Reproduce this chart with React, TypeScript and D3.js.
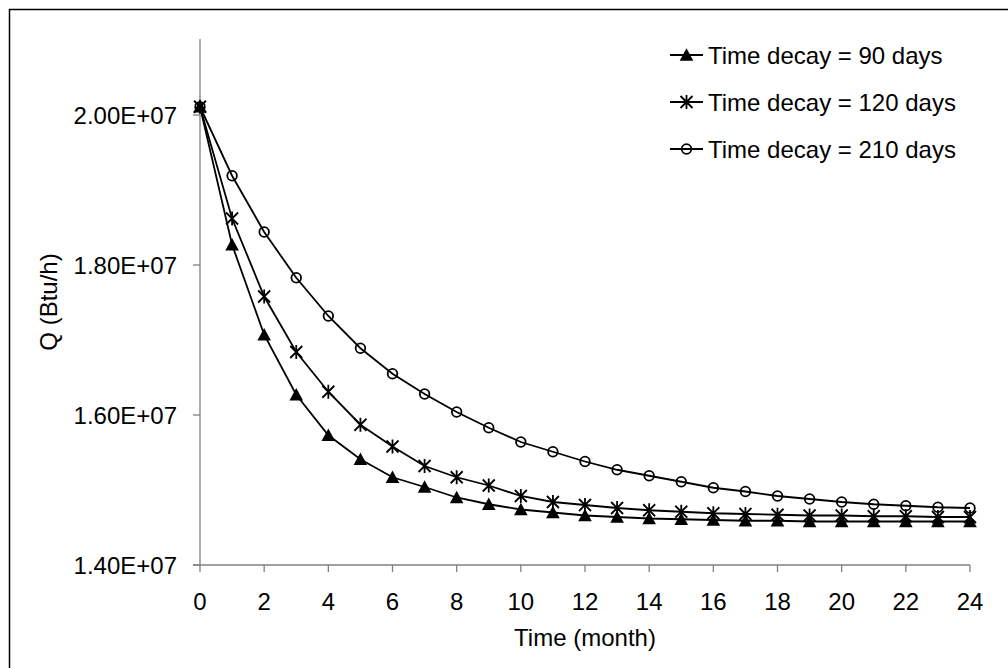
import React from "react";
import * as d3 from "d3";

const months = d3.range(0, 25);
const decay90 = [2.011e7, 1.827e7, 1.707e7, 1.627e7, 1.573e7, 1.541e7, 1.517e7, 1.504e7, 1.490e7, 1.481e7, 1.474e7, 1.470e7, 1.466e7, 1.464e7, 1.462e7, 1.461e7, 1.460e7, 1.459e7, 1.459e7, 1.458e7, 1.458e7, 1.458e7, 1.458e7, 1.458e7, 1.458e7];
const decay120 = [2.011e7, 1.862e7, 1.758e7, 1.684e7, 1.631e7, 1.587e7, 1.558e7, 1.532e7, 1.517e7, 1.506e7, 1.492e7, 1.484e7, 1.480e7, 1.476e7, 1.473e7, 1.471e7, 1.469e7, 1.468e7, 1.467e7, 1.466e7, 1.466e7, 1.465e7, 1.465e7, 1.464e7, 1.464e7];
const decay210 = [2.011e7, 1.919e7, 1.844e7, 1.783e7, 1.732e7, 1.689e7, 1.655e7, 1.628e7, 1.604e7, 1.583e7, 1.564e7, 1.551e7, 1.538e7, 1.527e7, 1.519e7, 1.511e7, 1.503e7, 1.498e7, 1.492e7, 1.488e7, 1.484e7, 1.481e7, 1.479e7, 1.477e7, 1.476e7];
const seriesNames = ["Time decay = 90 days", "Time decay = 120 days", "Time decay = 210 days"];
const seriesMarkers = ["triangle", "star", "circle"];
const xTicks = d3.range(0, 25, 2);
const yTicks = [1.4e7, 1.6e7, 1.8e7, 2.0e7];

const FONT = "'Liberation Sans', Arial, sans-serif";

function Marker({ type, x, y }: { type: string; x: number; y: number }) {
  if (type === "triangle") {
    const s = 6.8;
    return <path d={`M${x},${y - s}L${x + s},${y + s * 0.85}L${x - s},${y + s * 0.85}Z`} fill="#000" />;
  }
  if (type === "star") {
    const s = 6;
    return (
      <path
        d={`M${x - s},${y - s}L${x + s},${y + s}M${x - s},${y + s}L${x + s},${y - s}M${x},${y - s - 1}L${x},${y + s + 1}`}
        stroke="#000"
        strokeWidth={1.8}
        fill="none"
      />
    );
  }
  return <circle cx={x} cy={y} r={4.8} fill="none" stroke="#000" strokeWidth={1.8} />;
}

export default function App() {
  const width = 1008;
  const height = 668;
  const x = d3.scaleLinear().domain([0, 24]).range([200, 970]);
  const y = d3.scaleLinear().domain([1.4e7, 2.1e7]).range([565, 40]);
  const line = d3
    .line<number>()
    .x((_, i) => x(months[i]))
    .y((d) => y(d));
  const allSeries = [decay90, decay120, decay210];
  const axisColor = "#808080";

  return (
    <svg width={width} height={height} style={{ position: "absolute", left: 0, top: 0 }}>
      <rect x={0} y={0} width={width} height={height} fill="#fff" />
      <rect x={9.5} y={9.5} width={1020} height={680} fill="none" stroke="#000" strokeWidth={1.5} />

      {/* axes */}
      <line x1={x(0)} x2={x(0)} y1={39} y2={y(1.4e7)} stroke={axisColor} strokeWidth={1.3} />
      <line x1={x(0) - 7} x2={x(24)} y1={y(1.4e7)} y2={y(1.4e7)} stroke={axisColor} strokeWidth={1.3} />
      {yTicks.map((t) => (
        <g key={t}>
          <line x1={x(0) - 7} x2={x(0)} y1={y(t)} y2={y(t)} stroke={axisColor} strokeWidth={1.3} />
          <text x={177} y={y(t) + 8.5} textAnchor="end" fontFamily={FONT} fontSize={24} fill="#000">
            {(t / 1e7).toFixed(2) + "E+07"}
          </text>
        </g>
      ))}
      {xTicks.map((t) => (
        <g key={t}>
          <line x1={x(t)} x2={x(t)} y1={y(1.4e7)} y2={y(1.4e7) + 7} stroke={axisColor} strokeWidth={1.3} />
          <text x={x(t)} y={610} textAnchor="middle" fontFamily={FONT} fontSize={24} fill="#000">
            {t}
          </text>
        </g>
      ))}
      <text x={585} y={646} textAnchor="middle" fontFamily={FONT} fontSize={24} fill="#000">
        Time (month)
      </text>
      <text
        transform={`translate(57,302) rotate(-90)`}
        textAnchor="middle"
        fontFamily={FONT}
        fontSize={24}
        fill="#000"
      >
        Q (Btu/h)
      </text>

      {/* series */}
      {allSeries.map((s, si) => (
        <g key={si}>
          <path d={line(s) || ""} fill="none" stroke="#000" strokeWidth={1.8} />
          {s.map((v, i) => (
            <Marker key={i} type={seriesMarkers[si]} x={x(months[i])} y={y(v)} />
          ))}
        </g>
      ))}

      {/* legend */}
      {seriesNames.map((name, i) => {
        const ly = 55 + i * 47;
        return (
          <g key={name}>
            <line x1={670} x2={703} y1={ly} y2={ly} stroke="#000" strokeWidth={1.8} />
            <Marker type={seriesMarkers[i]} x={686.5} y={ly} />
            <text x={708} y={ly + 8.5} fontFamily={FONT} fontSize={24} fill="#000">
              {name}
            </text>
          </g>
        );
      })}
    </svg>
  );
}
